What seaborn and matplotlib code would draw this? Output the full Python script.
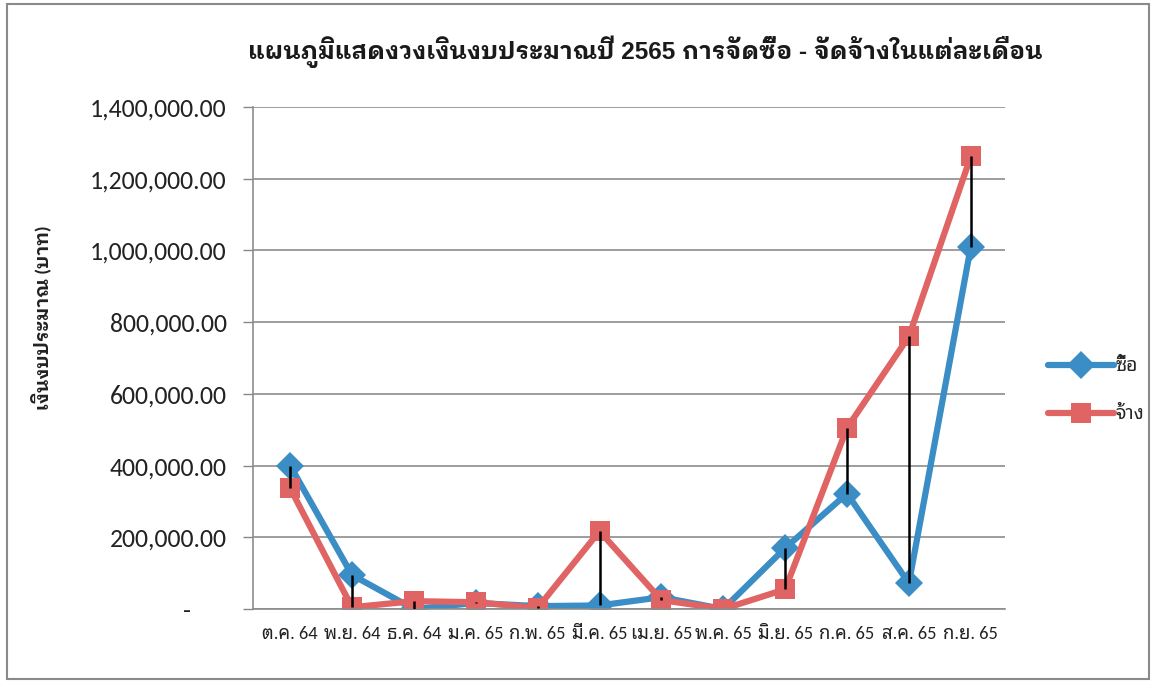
import matplotlib
matplotlib.use("Agg")
import matplotlib.pyplot as plt
from matplotlib import font_manager as fm
from matplotlib.lines import Line2D
from matplotlib.patches import Rectangle
import seaborn as sns
import pandas as pd

months = ["ต.ค. 64", "พ.ย. 64", "ธ.ค. 64", "ม.ค. 65", "ก.พ. 65", "มี.ค. 65",
          "เม.ย. 65", "พ.ค. 65", "มิ.ย. 65", "ก.ค. 65", "ส.ค. 65", "ก.ย. 65"]
buy = [400000, 95000, 0, 17000, 8000, 10000, 33000, 0, 170000, 322000, 72000, 1010000]
hire = [337000, 5000, 22000, 19000, 3000, 217000, 25000, 0, 55000, 505000, 760000, 1262000]
series_names = ["ซื้อ", "จ้าง"]
yticks = [0, 200000, 400000, 600000, 800000, 1000000, 1200000, 1400000]

installed = set(f.name for f in fm.fontManager.ttflist)


def pick(cands):
    return [f for f in cands if f in installed][:1]


thai = pick(["Noto Sans Thai Looped", "IBM Plex Sans Thai Looped", "Noto Sans Thai", "Sarabun"])
thai_bold = pick(["IBM Plex Sans Thai Looped", "Noto Sans Thai Looped", "Noto Sans Thai", "Sarabun"])
latin = "Carlito" if "Carlito" in installed else "DejaVu Sans"
tick_fam = [latin] + thai + ["DejaVu Sans"]
title_fam = ["Liberation Sans"] + thai_bold + ["DejaVu Sans"]
ylab_fam = [latin] + thai_bold + ["DejaVu Sans"]

sns.set_theme(style="white")
plt.rcParams['font.family'] = tick_fam

df = pd.DataFrame({
    "month": months * 2,
    "value": buy + hire,
    "type": [series_names[0]] * 12 + [series_names[1]] * 12,
})

fig = plt.figure(figsize=(11.51, 6.84), dpi=100)
ax = fig.add_axes([0.2198, 0.1096, 0.873 - 0.2198, 0.8436 - 0.1096])

colors = {"ซื้อ": "#3a8dc5", "จ้าง": "#e06464"}
marks = {"ซื้อ": "D", "จ้าง": "s"}
sns.lineplot(data=df, x="month", y="value", hue="type", style="type", palette=colors,
             markers=marks, dashes=False, sort=False, linewidth=4.5, markersize=14,
             markeredgewidth=0, ax=ax, legend=False)

# high-low lines
lo = [min(a, b) for a, b in zip(buy, hire)]
hi = [max(a, b) for a, b in zip(buy, hire)]
ax.vlines(range(len(months)), lo, hi, color="black", linewidth=1.8, zorder=5)

ax.set_xlim(-0.6, 11.55)
ax.set_ylim(0, 1400000)
ax.set_yticks(yticks)
ax.set_yticklabels(["-      "] + [f"{v:,.2f}" for v in yticks[1:]], fontsize=18.5, color="#222222")
ax.set_xticks(range(len(months)))
ax.set_xticklabels(months, fontsize=13.3, color="#222222")
ax.tick_params(axis="y", length=7, width=1, color="#888888", left=True, pad=12)
ax.tick_params(axis="x", length=0, pad=12)
ax.grid(axis="y", color="#8c8c8c", linewidth=1.2)
ax.set_axisbelow(True)
for s in ["top", "right"]:
    ax.spines[s].set_visible(False)
for s in ["left", "bottom"]:
    ax.spines[s].set_color("#8c8c8c")
    ax.spines[s].set_linewidth(1.2)
ax.set_xlabel("")
ax.set_ylabel("เงินงบประมาณ (บาท)", fontsize=13.5, fontweight="bold", color="#222222",
              family=ylab_fam)
ax.yaxis.set_label_coords(-0.268, 0.58)

fig.text(0.561, 0.925, "แผนภูมิแสดงวงเงินงบประมาณปี 2565 การจัดซื้อ - จัดจ้างในแต่ละเดือน",
         ha="center", va="center", fontsize=17.6, fontweight="bold", family=title_fam,
         color="#1a1a1a")

handles = [Line2D([], [], color=colors[n], marker=marks[n], linewidth=4.5, markersize=14,
                  markeredgewidth=0) for n in series_names]
fig.legend(handles, series_names, loc="center left", bbox_to_anchor=(0.895, 0.43),
           frameon=False, handlelength=3.4, labelspacing=1.6, handletextpad=0.1,
           prop={"family": tick_fam, "size": 14})

fig.patches.append(Rectangle((0.006, 0.007), 0.992, 0.987, transform=fig.transFigure,
                             fill=False, edgecolor="#8a8a8a", linewidth=1.5))

fig.savefig("out.png", dpi=100)
